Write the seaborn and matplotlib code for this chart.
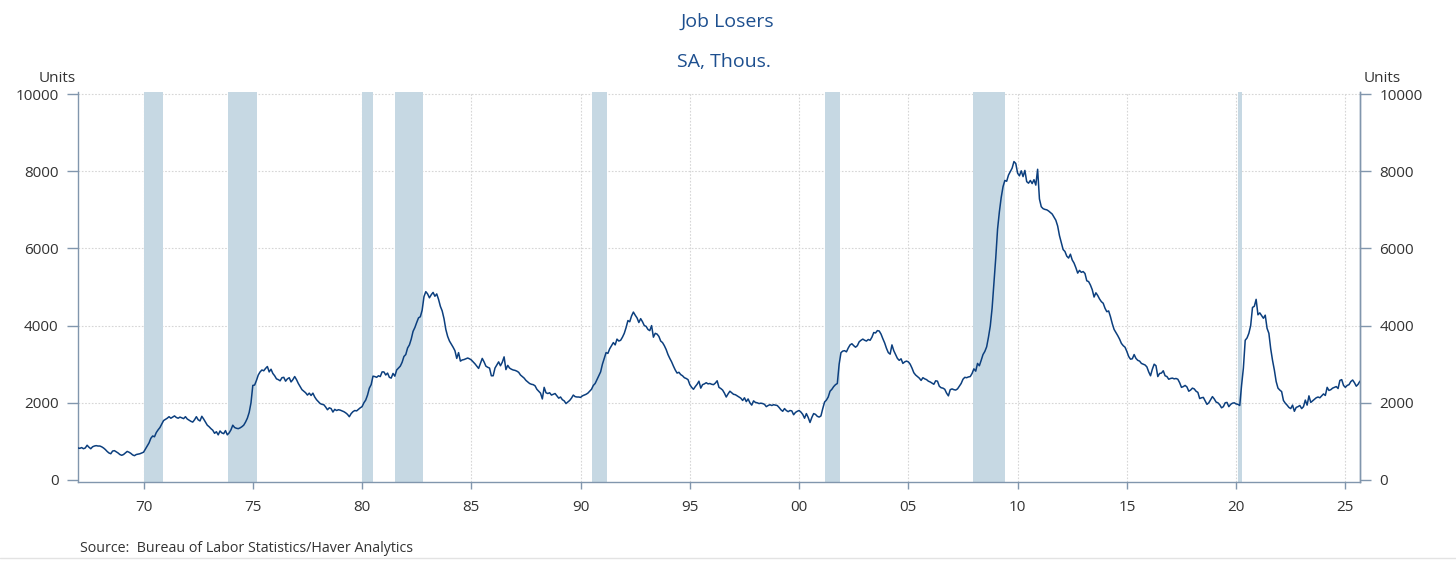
import numpy as np
import pandas as pd
import matplotlib
matplotlib.use("Agg")
import matplotlib.pyplot as plt
import seaborn as sns
from matplotlib.lines import Line2D

# ---- Data: Job losers, SA, thousands (monthly, Jan 1967 - Sep 2025) ----
jl_1960s = [
    830, 820, 840, 810, 830, 900, 850, 810, 860, 880, 890, 880,   # 1967
    880, 860, 830, 790, 740, 700, 680, 750, 760, 730, 700, 660,   # 1968
    640, 660, 700, 740, 720, 690, 650, 630, 660, 670, 680, 700,   # 1969
]
jl_1970s = [
    720, 800, 880, 960, 1080, 1140, 1120, 1230, 1300, 1360, 1450, 1540,   # 1970
    1570, 1600, 1640, 1600, 1630, 1660, 1620, 1600, 1630, 1610, 1590, 1640,  # 1971
    1580, 1550, 1520, 1500, 1560, 1640, 1560, 1530, 1650, 1580, 1500, 1420,  # 1972
    1380, 1330, 1290, 1210, 1250, 1170, 1270, 1220, 1200, 1280, 1170, 1220,  # 1973
    1300, 1420, 1360, 1340, 1330, 1350, 1380, 1420, 1500, 1600, 1750, 2000,  # 1974
    2450, 2460, 2580, 2720, 2800, 2850, 2830, 2890, 2940, 2800, 2870, 2760,  # 1975
    2700, 2620, 2600, 2570, 2650, 2660, 2560, 2620, 2650, 2540, 2600, 2680,  # 1976
    2600, 2500, 2420, 2340, 2300, 2260, 2200, 2250, 2190, 2250, 2150, 2080,  # 1977
    2030, 1980, 1960, 1950, 1890, 1820, 1870, 1850, 1760, 1830, 1800, 1820,  # 1978
    1810, 1790, 1770, 1740, 1700, 1640, 1720, 1770, 1800, 1790, 1830, 1870,  # 1979
]
jl_1980s = [
    1900, 2000, 2070, 2200, 2380, 2470, 2690, 2680, 2660, 2700, 2680, 2800,  # 1980
    2800, 2720, 2770, 2660, 2640, 2760, 2690, 2850, 2900, 2950, 3050, 3200,  # 1981
    3250, 3420, 3500, 3650, 3850, 3950, 4080, 4200, 4230, 4400, 4750, 4880,  # 1982
    4820, 4720, 4800, 4860, 4760, 4820, 4680, 4500, 4380, 4180, 3900, 3720,  # 1983
    3600, 3520, 3440, 3350, 3150, 3300, 3080, 3110, 3120, 3140, 3160, 3140,  # 1984
    3110, 3060, 3010, 2950, 2890, 3020, 3150, 3060, 2950, 2920, 2900, 2700,  # 1985
    2700, 2900, 2980, 3060, 2960, 3050, 3190, 2860, 2970, 2900, 2870, 2850,  # 1986
    2840, 2820, 2790, 2720, 2680, 2640, 2580, 2540, 2500, 2480, 2470, 2440,  # 1987
    2350, 2300, 2250, 2100, 2400, 2260, 2240, 2260, 2200, 2220, 2240, 2180,  # 1988
    2120, 2150, 2080, 2050, 1980, 2020, 2060, 2120, 2200, 2160, 2150, 2150,  # 1989
]
jl_1990s = [
    2140, 2180, 2200, 2220, 2250, 2300, 2350, 2450, 2500, 2600, 2700, 2800,  # 1990
    3000, 3150, 3300, 3280, 3400, 3480, 3560, 3500, 3650, 3600, 3620, 3700,  # 1991
    3800, 3950, 4130, 4100, 4250, 4350, 4270, 4200, 4080, 4180, 4100, 4000,  # 1992
    3980, 3900, 3870, 4000, 3700, 3800, 3780, 3720, 3600, 3560, 3480, 3380,  # 1993
    3250, 3150, 3060, 2950, 2850, 2770, 2790, 2730, 2700, 2650, 2630, 2600,  # 1994
    2470, 2400, 2350, 2420, 2480, 2560, 2380, 2470, 2490, 2520, 2490, 2500,  # 1995
    2480, 2470, 2510, 2570, 2400, 2370, 2330, 2250, 2150, 2230, 2300, 2260,  # 1996
    2220, 2210, 2180, 2150, 2120, 2060, 2130, 2030, 2100, 2000, 1940, 2050,  # 1997
    2010, 2000, 1980, 1990, 1980, 1960, 1900, 1930, 1950, 1930, 1950, 1940,  # 1998
    1930, 1880, 1820, 1780, 1850, 1800, 1770, 1800, 1790, 1690, 1750, 1780,  # 1999
]
jl_2000s = [
    1800, 1760, 1700, 1600, 1720, 1620, 1490, 1620, 1720, 1700, 1650, 1630,  # 2000
    1660, 1850, 2020, 2070, 2150, 2300, 2350, 2420, 2470, 2500, 3000, 3300,  # 2001
    3340, 3350, 3320, 3420, 3500, 3530, 3480, 3440, 3480, 3580, 3620, 3650,  # 2002
    3620, 3600, 3640, 3620, 3700, 3820, 3810, 3870, 3860, 3780, 3660, 3550,  # 2003
    3410, 3300, 3260, 3500, 3350, 3250, 3150, 3100, 3140, 3020, 3060, 3080,  # 2004
    3060, 3000, 2900, 2780, 2720, 2680, 2640, 2580, 2650, 2620, 2600, 2560,  # 2005
    2540, 2510, 2480, 2570, 2560, 2430, 2390, 2380, 2350, 2250, 2180, 2340,  # 2006
    2360, 2340, 2330, 2360, 2430, 2500, 2610, 2660, 2650, 2670, 2680, 2760,  # 2007
    2880, 2820, 3020, 2960, 3100, 3250, 3330, 3450, 3700, 3990, 4450, 5095,  # 2008
    5750, 6500, 6950, 7320, 7600, 7760, 7740, 7900, 7990, 8080, 8250, 8200,  # 2009
]
jl_2010s = [
    7950, 7880, 8010, 7860, 8020, 7730, 7690, 7760, 7680, 7780, 7640, 8050,  # 2010
    7280, 7080, 7030, 7010, 7000, 6970, 6930, 6890, 6810, 6730, 6580, 6330,  # 2011
    6150, 5970, 5920, 5800, 5750, 5850, 5700, 5620, 5500, 5360, 5430, 5380,  # 2012
    5400, 5350, 5160, 5140, 5050, 4930, 4740, 4850, 4780, 4690, 4620, 4580,  # 2013
    4450, 4360, 4380, 4230, 4050, 3900, 3820, 3740, 3650, 3540, 3480, 3440,  # 2014
    3330, 3200, 3130, 3140, 3250, 3150, 3100, 3080, 3020, 3000, 2980, 2930,  # 2015
    2800, 2700, 2870, 3000, 2960, 2680, 2760, 2770, 2830, 2700, 2680, 2610,  # 2016
    2630, 2640, 2620, 2630, 2610, 2520, 2400, 2420, 2450, 2410, 2300, 2330,  # 2017
    2380, 2360, 2300, 2270, 2110, 2130, 2140, 2050, 1960, 2000, 2080, 2160,  # 2018
    2100, 2020, 2000, 1950, 1870, 1900, 2000, 2010, 1900, 1960, 1990, 2000,  # 2019
]
jl_2020s = [
    1970, 1960, 1930, 2450, 2900, 3620, 3680, 3800, 4000, 4470, 4500, 4680,  # 2020
    4280, 4330, 4260, 4190, 4270, 3930, 3800, 3400, 3100, 2850, 2550, 2380,  # 2021
    2330, 2290, 2060, 1990, 1940, 1880, 1850, 1940, 1780, 1880, 1900, 1930,  # 2022
    1850, 1900, 2070, 1940, 2180, 2010, 2050, 2090, 2130, 2150, 2130, 2180,  # 2023
    2230, 2190, 2400, 2320, 2340, 2380, 2400, 2420, 2370, 2580, 2600, 2450,  # 2024
    2400, 2450, 2470, 2550, 2590, 2520, 2430, 2480, 2560,                    # 2025
]
start_year = 1967

# NBER recessions (decimal years, as shaded)
rec_start = [1970.0, 1973.86, 1980.0, 1981.5, 1990.54, 2001.2, 2007.98, 2020.08]
rec_end = [1970.88, 1975.2, 1980.5, 1982.8, 1991.2, 2001.86, 2009.44, 2020.26]

x_tick_years = [1970, 1975, 1980, 1985, 1990, 1995, 2000, 2005, 2010, 2015, 2020, 2025]
x_tick_labels = ["70", "75", "80", "85", "90", "95", "00", "05", "10", "15", "20", "25"]
y_ticks = [0, 2000, 4000, 6000, 8000, 10000]

# ---- Build frame ----
values = jl_1960s + jl_1970s + jl_1980s + jl_1990s + jl_2000s + jl_2010s + jl_2020s
df = pd.DataFrame({"value": values})
df["date"] = start_year + np.arange(len(df)) / 12.0

# ---- Style ----
sns.set_theme(style="white")
plt.rcParams["font.family"] = ["Open Sans", "DejaVu Sans"]

LINE = "#0c3f7e"
BAND = "#c6d8e3"
SPINE = "#8196ad"
GRID = "#d6d6d6"
TXT = "#333333"
TITLE = "#1d4f8f"

W, H = 1456, 561
fig = plt.figure(figsize=(W / 100, H / 100), dpi=100)
fig.patch.set_facecolor("white")
left, right, bottom, top = 78, 1360, 482, 92
ax = fig.add_axes([left / W, 1 - bottom / H, (right - left) / W, (bottom - top) / H])

for s, e in zip(rec_start, rec_end):
    ax.axvspan(s, e, color=BAND, lw=0, zorder=1)

sns.lineplot(data=df, x="date", y="value", ax=ax, color=LINE, lw=1.1, zorder=3)

ax.set_xlim(1967.0, 2025.67)
ax.set_ylim(-52, 10052)
ax.set_xticks(x_tick_years)
ax.set_xticklabels(x_tick_labels)
ax.set_yticks(y_ticks)
ax.set_yticklabels([str(v) for v in y_ticks])
ax.set_xlabel("")
ax.set_ylabel("")

ax.grid(True, axis="both", color=GRID, ls=(0, (1.5, 1.5)), lw=0.8, zorder=0)
ax.set_axisbelow(True)
ax.yaxis.get_gridlines()[0].set_visible(False)

for side in ["left", "bottom", "right"]:
    ax.spines[side].set_visible(True)
    ax.spines[side].set_color(SPINE)
    ax.spines[side].set_linewidth(1.0)
ax.spines["top"].set_visible(False)

ax.tick_params(axis="y", which="major", direction="out", length=8, width=1.0,
               color=SPINE, labelsize=11, labelcolor=TXT, pad=6, left=True)
ax.tick_params(axis="x", which="major", direction="out", length=5, width=1.0,
               color=SPINE, labelsize=11, labelcolor=TXT, pad=8, bottom=True)

ax2 = ax.twinx()
ax2.set_ylim(ax.get_ylim())
ax2.set_yticks(y_ticks)
ax2.set_yticklabels([str(v) for v in y_ticks])
ax2.tick_params(axis="y", which="major", direction="out", length=8, width=1.0,
                color=SPINE, labelsize=11, labelcolor=TXT, pad=6, right=True)
for side in ["left", "bottom", "top"]:
    ax2.spines[side].set_visible(False)
ax2.spines["right"].set_color(SPINE)
ax2.spines["right"].set_linewidth(1.0)
ax2.grid(False)

# ---- Texts ----
fig.text(727 / W, 1 - 22 / H, "Job Losers", ha="center", va="center",
         fontsize=14, color=TITLE)
fig.text(724 / W, 1 - 62 / H, "SA, Thous.", ha="center", va="center",
         fontsize=14, color=TITLE)
fig.text(57 / W, 1 - 78 / H, "Units", ha="center", va="center", fontsize=11, color=TXT)
fig.text(1382 / W, 1 - 78 / H, "Units", ha="center", va="center", fontsize=11, color=TXT)
fig.text(80 / W, 1 - 548 / H, "Source:  Bureau of Labor Statistics/Haver Analytics",
         ha="left", va="center", fontsize=10.3, color=TXT)

fig.add_artist(Line2D([0, 1], [1 - 558 / H, 1 - 558 / H], transform=fig.transFigure,
                      color="#e3e3e3", lw=1.0))

fig.savefig("out.png", dpi=100, facecolor="white")
